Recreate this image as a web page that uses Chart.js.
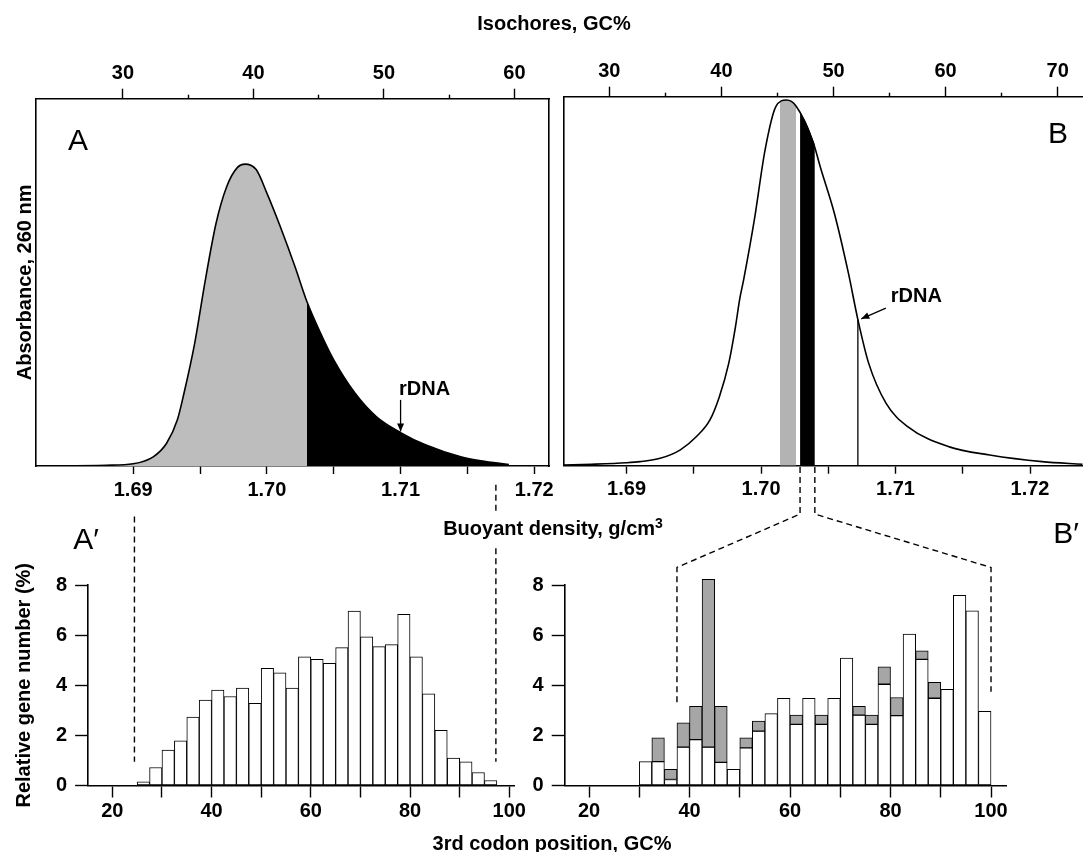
<!DOCTYPE html>
<html>
<head>
<meta charset="utf-8">
<script src="https://cdn.jsdelivr.net/npm/chart.js@4.4.1/dist/chart.umd.min.js"></script>
<style>
  body { margin: 0; background: #fff; }
  #wrap { position: relative; width: 1083px; height: 852px; overflow: hidden;
          font-family: "Liberation Sans", Arial, Helvetica, sans-serif; }
  canvas { position: absolute; }
  .lbl { position: absolute; white-space: nowrap; transform: translate(-50%, -50%);
         font-weight: bold; font-size: 20px; line-height: normal; }
  .panel { position: absolute; white-space: nowrap; transform: translate(-50%, -50%);
           font-size: 30px; line-height: normal; }
</style>
</head>
<body>
<div id="wrap">
  <canvas id="chartA" width="558" height="500" style="left:0;top:0"></canvas>
  <canvas id="chartB" width="525" height="500" style="left:558px;top:0"></canvas>
  <canvas id="chartA2" width="528" height="292" style="left:0;top:560px"></canvas>
  <canvas id="chartB2" width="555" height="292" style="left:528px;top:560px"></canvas>
  <canvas id="overlay" width="1083" height="852" style="left:0;top:0"></canvas>

  <div class="lbl" style="left:554px;top:23px">Isochores, GC%</div>
  <div class="lbl" style="left:553px;top:528px">Buoyant density, g/cm<span style="font-size:14px;position:relative;top:-7px">3</span></div>
  <div class="lbl" style="left:552px;top:843px">3rd codon position, GC%</div>
  <div class="panel" style="left:78px;top:140px">A</div>
  <div class="panel" style="left:1058px;top:133px">B</div>
  <div class="panel" style="left:86px;top:539px">A′</div>
  <div class="panel" style="left:1066px;top:533px">B′</div>
</div>

<script>
// ---------- values ----------
// panel A : CsCl profile, absorbance in % of frame height
const densAGray  = [1.6830, 1.6880, 1.6900, 1.6915, 1.6925, 1.6933, 1.6938, 1.6946, 1.6954, 1.6962,
                    1.6970, 1.6978, 1.69835, 1.6992, 1.7000, 1.7010, 1.7021, 1.7030];
const absAGray   = [0, 0.2, 0.6, 2.5, 6.2, 12.5, 19.8, 33.4, 50.7, 66.1,
                    76.1, 81.3, 82.2, 80.7, 74.3, 65.2, 54.3, 44.7];
const densABlack = [1.7030, 1.7039, 1.7050, 1.7066, 1.7082, 1.7100, 1.7119, 1.7145, 1.7160, 1.7181];
const absABlack  = [44.7, 37.1, 28.9, 19.8, 13.4, 9.1, 5.7, 2.5, 1.4, 0.4];

// panel B : CsCl profile
const densB = [1.6853, 1.6874, 1.6900, 1.6910, 1.6925, 1.6940, 1.6952, 1.6962, 1.6969, 1.6976,
               1.6981, 1.6984, 1.6987, 1.6995, 1.7003, 1.7011, 1.7019, 1.7026, 1.7039, 1.7044,
               1.70545, 1.7065, 1.7072, 1.7080, 1.7093, 1.7109, 1.7140, 1.7170, 1.7209, 1.7239];
const absB  = [0.2, 0.4, 0.8, 1.1, 2.0, 4.3, 7.9, 12.4, 18.7, 27.8,
               37.7, 44.9, 50.3, 66.6, 85.6, 97.3, 99.1, 97.5, 87.4, 81.0,
               68.4, 52.1, 39.6, 27.8, 16.9, 10.6, 5.1, 2.9, 1.1, 0.4];
const densBGray  = [1.7014, 1.7019, 1.7026];
const absBGray   = [98.6, 99.1, 97.5];
const densBBlack = [1.7029, 1.7034, 1.7040];
const absBBlack  = [96.0, 92.6, 87.0];
const rdnaBDens = 1.7072, rdnaBAbs = 39.6;

// panel A' : gene histogram (2.5% GC bins)
const gcBinsA = [26.25, 28.75, 31.25, 33.75, 36.25, 38.75, 41.25, 43.75, 46.25, 48.75,
                 51.25, 53.75, 56.25, 58.75, 61.25, 63.75, 66.25, 68.75, 71.25, 73.75,
                 76.25, 78.75, 81.25, 83.75, 86.25, 88.75, 91.25, 93.75, 96.25];
const genesA  = [0.15, 0.72, 1.41, 1.78, 2.73, 3.41, 3.81, 3.55, 3.89, 3.28,
                 4.68, 4.50, 3.89, 5.13, 5.03, 4.87, 5.50, 6.96, 5.93, 5.54,
                 5.62, 6.83, 5.13, 3.66, 2.20, 1.09, 0.94, 0.52, 0.20];

// panel B' : white part and total (white + shaded)
const gcBinsB = [31.25, 33.75, 36.25, 38.75, 41.25, 43.75, 46.25, 48.75, 51.25, 53.75,
                 56.25, 58.75, 61.25, 63.75, 66.25, 68.75, 71.25, 73.75, 76.25, 78.75,
                 81.25, 83.75, 86.25, 88.75, 91.25, 93.75, 96.25, 98.75];
const genesBWhite = [0.95, 0.95, 0.24, 1.53, 1.83, 1.53, 0.92, 0.65, 1.50, 2.17,
                     2.87, 3.48, 2.44, 3.48, 2.44, 3.48, 5.08, 2.81, 2.44, 4.04,
                     2.79, 6.04, 5.03, 3.48, 3.84, 7.59, 6.97, 2.96];
const genesBTotal = [0.95, 1.90, 0.65, 2.50, 3.16, 8.23, 3.16, 0.65, 1.90, 2.57,
                     2.87, 3.48, 2.81, 3.48, 2.81, 3.48, 5.08, 3.16, 2.81, 4.73,
                     3.51, 6.04, 5.37, 4.12, 3.84, 7.59, 6.97, 2.96];

// tick lists
const densTicks  = [1.69, 1.695, 1.70, 1.705, 1.71, 1.715, 1.72];
const isoMajorA  = [30, 40, 50, 60];
const isoMinorA  = [35, 45, 55];
const isoMajorB  = [30, 40, 50, 60, 70];
const isoMinorB  = [35, 45, 55, 65];
const gcTicks    = [20, 30, 40, 50, 60, 70, 80, 90, 100];
const histTicks  = [0, 1, 2, 3, 4, 5, 6, 7, 8];

// ---------- helpers ----------
Chart.defaults.font.family = '"Liberation Sans", Arial, Helvetica, sans-serif';
Chart.defaults.font.size = 20;
Chart.defaults.font.weight = 'bold';
Chart.defaults.color = '#000';
Chart.defaults.animation = false;
Chart.defaults.plugins.legend.display = false;
Chart.defaults.plugins.tooltip.enabled = false;

const xy = (xs, ys) => xs.map((x, i) => ({ x: x, y: ys[i] }));
const fixSize = size => s => { if (s.isHorizontal()) s.height = size; else s.width = size; };
const setTicks = list => s => { s.ticks = list.map(v => ({ value: v })); };
const isMult = (v, m) => Math.abs(v / m - Math.round(v / m)) < 1e-6;

function axis(extra) {
  return Object.assign({
    type: 'linear',
    border: { display: true, color: '#000', width: 1.6 },
    grid: { drawOnChartArea: false, drawTicks: true, tickLength: 8, tickColor: '#000', tickWidth: 1.4 },
  }, extra);
}
function bareAxis(pos, size) {
  return {
    position: pos, type: 'linear',
    afterFit: fixSize(size),
    ticks: { display: false },
    border: { display: true, color: '#000', width: 1.6 },
    grid: { drawOnChartArea: false, drawTicks: false },
  };
}
// short minor ticks on the isochore axis (zero-height box next to the frame)
function minorTop(min, max, list) {
  return {
    type: 'linear', position: 'top', weight: 0, min: min, max: max,
    afterFit: fixSize(0), afterBuildTicks: setTicks(list),
    ticks: { display: false },
    border: { display: false },
    grid: { drawOnChartArea: false, drawTicks: true, tickLength: 4, tickColor: '#000', tickWidth: 1.4 },
  };
}

function arrow(ctx, x1, y1, x2, y2) {
  ctx.beginPath(); ctx.moveTo(x1, y1); ctx.lineTo(x2, y2); ctx.stroke();
  const a = Math.atan2(y2 - y1, x2 - x1), L = 8, W = 3.5;
  ctx.beginPath(); ctx.moveTo(x2, y2);
  ctx.lineTo(x2 - L * Math.cos(a) + W * Math.sin(a), y2 - L * Math.sin(a) - W * Math.cos(a));
  ctx.lineTo(x2 - L * Math.cos(a) - W * Math.sin(a), y2 - L * Math.sin(a) + W * Math.cos(a));
  ctx.closePath(); ctx.fill();
}

// rDNA label + arrow, placed with the chart scales
function rdnaNote(label, from, to) {
  return {
    id: 'rdna',
    afterDatasetsDraw(chart) {
      const { ctx, scales: { x, y } } = chart;
      ctx.save();
      ctx.fillStyle = '#000'; ctx.strokeStyle = '#000'; ctx.lineWidth = 1.3;
      ctx.font = 'bold 20px "Liberation Sans", Arial, sans-serif';
      ctx.textAlign = 'center'; ctx.textBaseline = 'middle';
      ctx.fillText('rDNA', x.getPixelForValue(label[0]), y.getPixelForValue(label[1]));
      arrow(ctx, x.getPixelForValue(from[0]), y.getPixelForValue(from[1]),
                 x.getPixelForValue(to[0]), y.getPixelForValue(to[1]));
      ctx.restore();
    }
  };
}

const curveLine = { borderColor: '#000', borderWidth: 1.6, fill: false };

// ---------- panel A ----------
const chartA = new Chart(document.getElementById('chartA'), {
  type: 'line',
  data: { datasets: [
    Object.assign({ data: xy(densAGray.concat(densABlack.slice(1)), absAGray.concat(absABlack.slice(1))) }, curveLine),
    { data: xy(densAGray, absAGray), borderWidth: 0, backgroundColor: '#bdbdbd', fill: 'origin' },
    { data: xy(densABlack, absABlack), borderWidth: 0, backgroundColor: '#000', fill: 'origin' },
  ]},
  options: {
    responsive: false,
    layout: { padding: { left: 0, top: 0, right: 5.1, bottom: 0 } },
    elements: { point: { radius: 0 }, line: { cubicInterpolationMode: 'monotone' } },
    scales: {
      x: axis({ position: 'bottom', min: 1.68271, max: 1.72111, afterFit: fixSize(34),
                afterBuildTicks: setTicks(densTicks),
                ticks: { padding: 4, maxRotation: 0, callback: v => isMult(v, 0.01) ? v.toFixed(2) : '' } }),
      x2: axis({ position: 'top', weight: 1, min: 23.31, max: 62.66, afterFit: fixSize(98.7),
                 afterBuildTicks: setTicks(isoMajorA),
                 grid: { drawOnChartArea: false, tickLength: 10, tickColor: '#000', tickWidth: 1.4 },
                 ticks: { padding: 3, maxRotation: 0 } }),
      x3: minorTop(23.31, 62.66, isoMinorA),
      y: Object.assign(bareAxis('left', 35.7), { min: 0, max: 100,
           title: { display: true, text: 'Absorbance, 260 nm', padding: { top: 13, bottom: 0 } } }),
      y2: Object.assign(bareAxis('right', 0), { min: 0, max: 100 }),
    }
  },
  plugins: [rdnaNote([1.7118, 20.7], [1.7100, 18.0], [1.7100, 9.4])]
});

// ---------- panel B ----------
const chartB = new Chart(document.getElementById('chartB'), {
  type: 'line',
  data: { datasets: [
    Object.assign({ data: xy(densB, absB) }, curveLine),
    { data: [{ x: rdnaBDens, y: 0 }, { x: rdnaBDens, y: rdnaBAbs }], borderColor: '#000', borderWidth: 1.3, fill: false },
    { data: xy(densBGray, absBGray), borderWidth: 0, backgroundColor: '#b3b3b3', fill: 'origin' },
    { data: xy(densBBlack, absBBlack), borderWidth: 0, backgroundColor: '#000', fill: 'origin' },
  ]},
  options: {
    responsive: false,
    layout: { padding: { left: 0, top: 0, right: 0, bottom: 0 } },
    elements: { point: { radius: 0 }, line: { cubicInterpolationMode: 'monotone' } },
    scales: {
      x: axis({ position: 'bottom', min: 1.68531, max: 1.72394, afterFit: fixSize(34.3),
                afterBuildTicks: setTicks(densTicks),
                ticks: { padding: 4, maxRotation: 0, callback: v => isMult(v, 0.01) ? v.toFixed(2) : '' } }),
      x2: axis({ position: 'top', weight: 1, min: 25.91, max: 72.26, afterFit: fixSize(96.7),
                 afterBuildTicks: setTicks(isoMajorB),
                 grid: { drawOnChartArea: false, tickLength: 10, tickColor: '#000', tickWidth: 1.4 },
                 ticks: { padding: 3, maxRotation: 0 } }),
      x3: minorTop(25.91, 72.26, isoMinorB),
      y: Object.assign(bareAxis('left', 5.5), { min: 0, max: 100 }),
    }
  },
  plugins: [rdnaNote([1.71155, 45.8], [1.70928, 42.7], [1.70745, 39.8])]
});

// ---------- histograms ----------
const barStyle = { borderColor: '#000', borderWidth: 1, barPercentage: 1, categoryPercentage: 1,
                   grouped: false, borderSkipped: false };

function histScales(xMin, xMax, yWidth, withTitle) {
  return {
    x: axis({ position: 'bottom', min: xMin, max: xMax, offset: false, afterFit: fixSize(66.5),
              afterBuildTicks: setTicks(gcTicks),
              grid: { drawOnChartArea: false, offset: false, tickLength: 12, tickColor: '#000', tickWidth: 1.4 },
              ticks: { padding: 2, maxRotation: 0, callback: v => isMult(v, 20) ? String(v) : '' } }),
    y: axis({ position: 'left', min: 0, max: 8, afterFit: fixSize(yWidth),
              afterBuildTicks: setTicks(histTicks),
              grid: { drawOnChartArea: false, tickLength: 12.6, tickColor: '#000', tickWidth: 1.4 },
              ticks: { padding: 8, callback: v => isMult(v, 2) ? String(v) : '' },
              title: { display: withTitle, text: 'Relative gene number (%)', padding: { top: 12, bottom: 0 } } }),
  };
}

const chartA2 = new Chart(document.getElementById('chartA2'), {
  type: 'bar',
  data: { datasets: [
    Object.assign({ data: xy(gcBinsA, genesA), backgroundColor: '#fff' }, barStyle),
  ]},
  options: {
    responsive: false,
    layout: { padding: { left: 0, top: 25, right: 3, bottom: 0 } },
    scales: histScales(15.03, 100.98, 87.7, true)
  }
});

const shaded = gcBinsB.map((x, i) => ({ x: x, y: [genesBWhite[i], genesBTotal[i]] }))
                      .filter(d => d.y[1] > d.y[0]);
const chartB2 = new Chart(document.getElementById('chartB2'), {
  type: 'bar',
  data: { datasets: [
    Object.assign({ data: shaded, backgroundColor: '#a6a6a6', clip: false }, barStyle),
    Object.assign({ data: xy(gcBinsB, genesBWhite), backgroundColor: '#fff' }, barStyle),
  ]},
  options: {
    responsive: false,
    layout: { padding: { left: 0, top: 25, right: 76.3, bottom: 0 } },
    scales: histScales(15.08, 103.12, 36.3, false)
  }
});

// ---------- dashed connectors between panels ----------
const ov = document.getElementById('overlay').getContext('2d');
const px = (c, id, v) => c.canvas.offsetLeft + c.scales[id].getPixelForValue(v);
const py = (c, id, v) => c.canvas.offsetTop + c.scales[id].getPixelForValue(v);
ov.strokeStyle = '#000'; ov.lineWidth = 1.4; ov.setLineDash([6, 4]);
function poly(pts) {
  ov.beginPath(); ov.moveTo(pts[0][0], pts[0][1]);
  pts.slice(1).forEach(p => ov.lineTo(p[0], p[1]));
  ov.stroke();
}
// A -> A'
poly([[px(chartA2, 'x', 24.45), py(chartA2, 'y', 10.73)], [px(chartA2, 'x', 24.45), py(chartA2, 'y', 0.95)]]);
poly([[px(chartA2, 'x', 97.3), py(chartA2, 'y', 12.0)], [px(chartA2, 'x', 97.3), py(chartA2, 'y', 10.8)]]);
poly([[px(chartA2, 'x', 97.3), py(chartA2, 'y', 9.47)], [px(chartA2, 'x', 97.3), py(chartA2, 'y', 0.95)]]);
// black band of B -> B'
poly([[px(chartB, 'x', densBBlack[0]), py(chartB2, 'y', 12.71)],
      [px(chartB, 'x', densBBlack[0]), py(chartB2, 'y', 10.83)],
      [px(chartB2, 'x', 37.5), py(chartB2, 'y', 8.7)],
      [px(chartB2, 'x', 37.5), py(chartB2, 'y', 3.25)]]);
poly([[px(chartB, 'x', densBBlack[2]), py(chartB2, 'y', 12.71)],
      [px(chartB, 'x', densBBlack[2]), py(chartB2, 'y', 10.83)],
      [px(chartB2, 'x', 100), py(chartB2, 'y', 8.7)],
      [px(chartB2, 'x', 100), py(chartB2, 'y', 3.74)]]);
</script>
</body>
</html>
